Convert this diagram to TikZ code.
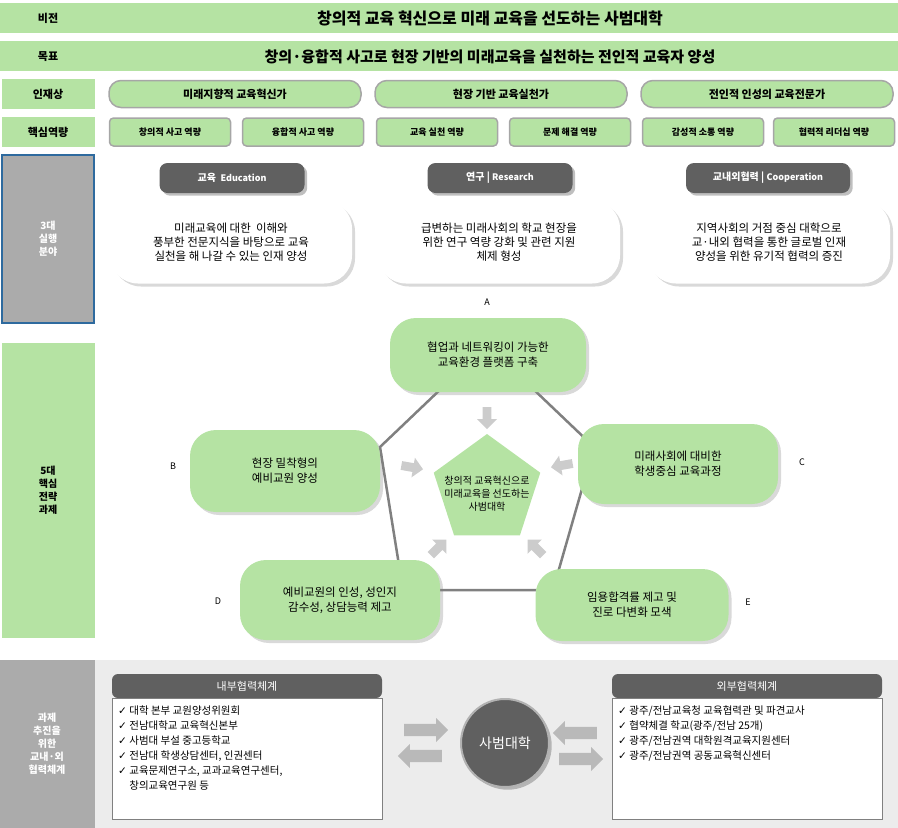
\documentclass[tikz,border=0pt]{standalone}
\usepackage{fontspec}
\setmainfont{Noto Sans CJK KR}
\newfontfamily\symfont{DejaVu Sans}
\usetikzlibrary{shapes.geometric,shapes.arrows,shadows,backgrounds}
\definecolor{lgreen}{HTML}{B5E3A3}
\definecolor{edgegray}{HTML}{A6A6A6}
\definecolor{darktab}{HTML}{606060}
\definecolor{sidegray}{HTML}{ABABAB}
\definecolor{framblue}{HTML}{2E6A9E}
\newcommand{\ck}{{\symfont\char"2713}\ }
\tikzset{
  band/.style={fill=lgreen, draw=none, minimum height=30pt, inner sep=0pt},
  sidetab/.style={fill=lgreen, draw=none, minimum width=93pt, minimum height=30pt, inner sep=0pt, font=\fontsize{11}{12}\selectfont\bfseries},
  pill/.style={fill=lgreen, draw=edgegray, line width=1.5pt, rounded corners=12pt, minimum width=252pt, minimum height=27pt, font=\fontsize{11}{12}\selectfont\bfseries},
  skill/.style={fill=lgreen, draw=edgegray, line width=1.5pt, rounded corners=4pt, minimum width=121pt, minimum height=28pt, font=\fontsize{9}{10}\selectfont\bfseries},
  fieldtab/.style={fill=darktab, text=white, rounded corners=8pt, minimum height=30pt, font=\fontsize{10}{11}\selectfont\bfseries, drop shadow},
  bubble/.style={fill=white, rounded corners=28pt, minimum width=242pt, minimum height=83pt, align=center, font=\fontsize{11.5}{14}\selectfont, drop shadow={shadow xshift=3pt, shadow yshift=-3pt, opacity=0.3}},
  task/.style={fill=lgreen, rounded corners=26pt, align=center, font=\fontsize{11.5}{15}\selectfont, drop shadow={shadow xshift=3pt, shadow yshift=-3pt, opacity=0.3}},
  tag/.style={font=\fontsize{9}{10}\selectfont},
  toward/.style={single arrow, fill=gray!40, draw=none, minimum width=20pt, single arrow head extend=4pt, minimum height=22pt, inner sep=3pt},
  swap/.style={single arrow, fill=gray!55, draw=none, minimum width=24pt, single arrow head extend=5pt, minimum height=44pt, inner sep=5pt},
  listbox/.style={fill=white, draw=gray, minimum width=270pt, minimum height=121pt, anchor=north west},
  listtext/.style={align=left, anchor=north west, inner sep=0pt, font=\fontsize{10.5}{15}\selectfont},
  listhead/.style={fill=darktab, text=white, rounded corners=6pt, minimum width=270pt, minimum height=24pt, font=\fontsize{11}{12}\selectfont}
}
\begin{document}
\begin{tikzpicture}[x=1pt,y=-1pt]
\useasboundingbox (0,0) rectangle (898,828);
% vision and goal
\node[band, minimum width=898pt, anchor=north west] (vision) at (0,3) {};
\node[font=\fontsize{11}{12}\selectfont\bfseries] (visionlbl) at (48,18) {비전};
\node[font=\fontsize{16}{18}\selectfont\bfseries] (visiontxt) at (490,18) {창의적 교육 혁신으로 미래 교육을 선도하는 사범대학};
\node[band, minimum width=898pt, anchor=north west] (goal) at (0,41) {};
\node[font=\fontsize{11}{12}\selectfont\bfseries] (goallbl) at (48,57) {목표};
\node[font=\fontsize{15}{18}\selectfont\bfseries] (goaltxt) at (490,57) {창의·융합적 사고로 현장 기반의 미래교육을 실천하는 전인적 교육자 양성};
% talent
\node[sidetab] (talent) at (48,94) {인재상};
\node[pill] (t1) at (235,94) {미래지향적 교육혁신가};
\node[pill] (t2) at (501,94) {현장 기반 교육실천가};
\node[pill] (t3) at (767,94) {전인적 인성의 교육전문가};
\node[sidetab] (core) at (48,132) {핵심역량};
\node[skill] (s1) at (170,132) {창의적 사고 역량};
\node[skill] (s2) at (303,132) {융합적 사고 역량};
\node[skill] (s3) at (437,132) {교육 실천 역량};
\node[skill] (s4) at (570,132) {문제 해결 역량};
\node[skill] (s5) at (703,132) {감성적 소통 역량};
\node[skill] (s6) at (834,132) {협력적 리더십 역량};
% three fields
\node[fill=sidegray, draw=framblue, line width=1.5pt, minimum width=92pt, minimum height=168pt, text=white, align=center, font=\fontsize{10}{13}\selectfont\bfseries] (fields) at (48,239) {3대\\실행\\분야};
\node[fieldtab, minimum width=145pt] (edu) at (232,178) {교육 \ {\fontsize{9}{10}\selectfont Education}};
\node[fieldtab, minimum width=145pt] (res) at (500,178) {연구 | {\fontsize{9}{10}\selectfont Research}};
\node[fieldtab, minimum width=164pt] (coop) at (768,178) {교내외협력 | {\fontsize{9}{10}\selectfont Cooperation}};
\node[bubble] (b1) at (231,242) {미래교육에 대한 \ 이해와\\풍부한 전문지식을 바탕으로 교육\\실천을 해 나갈 수 있는 인재 양성};
\node[bubble] (b2) at (499,242) {급변하는 미래사회의 학교 현장을\\위한 연구 역량 강화 및 관련 지원\\체제 형성};
\node[bubble] (b3) at (769,242) {지역사회의 거점 중심 대학으로\\교·내외 협력을 통한 글로벌 인재\\양성을 위한 유기적 협력의 증진};
% five tasks
\node[fill=lgreen, minimum width=93pt, minimum height=295pt, align=center, font=\fontsize{10}{13}\selectfont\bfseries] (tasks) at (48,490) {5대\\핵심\\전략\\과제};
\node[task, minimum width=196pt, minimum height=74pt] (A) at (488,355) {협업과 네트워킹이 가능한\\교육환경 플랫폼 구축};
\node[task, minimum width=190pt, minimum height=82pt] (B) at (285,471) {현장 밀착형의\\예비교원 양성};
\node[task, minimum width=200pt, minimum height=80pt] (C) at (678,464) {미래사회에 대비한\\학생중심 교육과정};
\node[task, minimum width=200pt, minimum height=80pt] (D) at (340,600) {예비교원의 인성, 성인지\\감수성, 상담능력 제고};
\node[task, minimum width=193pt, minimum height=72pt] (E) at (632,605) {임용합격률 제고 및\\진로 다변화 모색};
\node[tag] (la) at (487,302) {A};
\node[tag] (lb) at (173,466) {B};
\node[tag] (lc) at (802,462) {C};
\node[tag] (ld) at (218,601) {D};
\node[tag] (le) at (748,602) {E};
\begin{scope}[on background layer]
\draw[gray, line width=2.5pt] (487,345) -- (594,447) -- (553,590) -- (403,590) -- (380,447) -- cycle;
\end{scope}
\node[regular polygon, regular polygon sides=5, fill=lgreen, minimum size=112pt, inner sep=0pt] (hub) at (487,490) {};
\node[align=center, font=\fontsize{10}{13}\selectfont] (hubtxt) at (487,494) {창의적 교육혁신으로\\미래교육을 선도하는\\사범대학};
\node[toward, rotate=-90] (ta) at (487,416) {};
\node[toward, rotate=-10] (tb) at (410,467) {};
\node[toward, rotate=190] (tc) at (564,465) {};
\node[toward, rotate=45] (td) at (437,549) {};
\node[toward, rotate=135] (te) at (537,549) {};
% cooperation system
\fill[gray!15] (0,660) rectangle (898,828);
\node[fill=sidegray, minimum width=95pt, minimum height=168pt, text=white, align=center, font=\fontsize{10}{13}\selectfont\bfseries] (partner) at (47,744) {과제\\추진을\\위한\\교내·외\\협력체계};
\node[listhead] (inhead) at (247,686) {내부협력체계};
\node[listbox] (inlist) at (112,698) {};
\node[listtext] (intext) at (118,706) {\ck 대학 본부 교원양성위원회\\\ck 전남대학교 교육혁신본부\\\ck 사범대 부설 중고등학교\\\ck 전남대 학생상담센터, 인권센터\\\ck 교육문제연구소, 교과교육연구센터,\\\phantom{\ck}창의교육연구원 등};
\node[listhead] (exhead) at (747,686) {외부협력체계};
\node[listbox] (exlist) at (612,698) {};
\node[listtext] (extext) at (618,706) {\ck 광주/전남교육청 교육협력관 및 파견교사\\\ck 협약체결 학교(광주/전남 25개)\\\ck 광주/전남권역 대학원격교육지원센터\\\ck 광주/전남권역 공동교육혁신센터};
\node[circle, fill=darktab, draw=gray!60, line width=2pt, minimum size=88pt, text=white, font=\fontsize{14}{16}\selectfont, drop shadow] (college) at (505,743) {사범대학};
\node[swap] (r1) at (423,730) {};
\node[swap, rotate=180] (r2) at (423,756) {};
\node[swap, rotate=180] (r3) at (578,733) {};
\node[swap] (r4) at (578,759) {};
\end{tikzpicture}
\end{document}
